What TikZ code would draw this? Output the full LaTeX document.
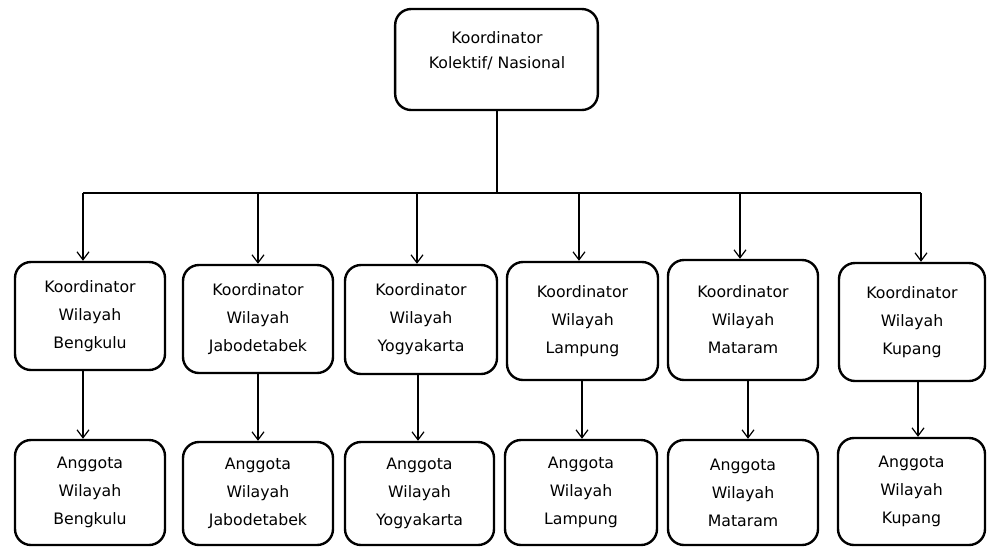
\documentclass[tikz,border=0pt]{standalone}
\usepackage{fontspec}
\setmainfont{DejaVu Sans}
\usetikzlibrary{arrows.meta}
\begin{document}
\begin{tikzpicture}[x=0.75pt,y=-0.75pt,
  box/.style={draw=black,line width=1.8pt,rounded corners=12pt,inner sep=0pt,align=center,
    font=\fontsize{11.8pt}{21pt}\selectfont},
  txt/.style={inner sep=0pt,align=center,font=\fontsize{11.8pt}{19pt}\selectfont},
  conn/.style={draw=black,line width=0.9pt},
  arr/.style={conn,-{Straight Barb[length=6pt,width=9pt,line width=0.9pt]}}]
\useasboundingbox (0,0) rectangle (987,547);
% top
\node[box,minimum width=152pt,minimum height=75.75pt] (top) at (496.5,59.5) {};
\node[txt] (toptxt) at (497,51) {Koordinator\\Kolektif/ Nasional};
% row 1
\node[box,minimum width=112.5pt,minimum height=81pt] (a1) at (90,316) {Koordinator\\Wilayah\\Bengkulu};
\node[box,minimum width=112.5pt,minimum height=81pt] (a2) at (258,319) {Koordinator\\Wilayah\\Jabodetabek};
\node[box,minimum width=114pt,minimum height=81.75pt] (a3) at (421,319.5) {Koordinator\\Wilayah\\Yogyakarta};
\node[box,minimum width=113.25pt,minimum height=88.5pt] (a4) at (582.5,321) {Koordinator\\Wilayah\\Lampung};
\node[box,minimum width=112.5pt,minimum height=90pt] (a5) at (743,320) {Koordinator\\Wilayah\\Mataram};
\node[box,minimum width=109.5pt,minimum height=88.5pt] (a6) at (912,322) {Koordinator\\Wilayah\\Kupang};
% row 2
\node[box,minimum width=112.5pt,minimum height=78.75pt] (b1) at (90,492.5) {Anggota\\Wilayah\\Bengkulu};
\node[box,minimum width=112.5pt,minimum height=77.25pt] (b2) at (258,493.5) {Anggota\\Wilayah\\Jabodetabek};
\node[box,minimum width=111.75pt,minimum height=77.25pt] (b3) at (419.5,493.5) {Anggota\\Wilayah\\Yogyakarta};
\node[box,minimum width=114pt,minimum height=78.75pt] (b4) at (581,492.5) {Anggota\\Wilayah\\Lampung};
\node[box,minimum width=112.5pt,minimum height=78.75pt] (b5) at (743,492.5) {Anggota\\Wilayah\\Mataram};
\node[box,minimum width=110.25pt,minimum height=80.25pt] (b6) at (911.5,491.5) {Anggota\\Wilayah\\Kupang};
% bus
\coordinate (busL) at (83,193);
\coordinate (busR) at (921,193);
\coordinate (t1) at (83,193);
\coordinate (t2) at (258,193);
\coordinate (t3) at (417,193);
\coordinate (t4) at (579,193);
\coordinate (t5) at (740,193);
\coordinate (t6) at (921,193);
\coordinate (d1) at (83,0);
\coordinate (d2) at (258,0);
\coordinate (d3) at (418,0);
\coordinate (d4) at (582,0);
\coordinate (d5) at (748,0);
\coordinate (d6) at (918,0);
\draw[conn] (top.south -| 497,0) -- (497,193);
\draw[conn] (busL) -- (busR);
\foreach \i in {1,...,6}{
  \draw[arr] (t\i) -- (t\i |- a\i.north);
  \draw[arr] (d\i |- a\i.south) -- (d\i |- b\i.north);
}
\end{tikzpicture}
\end{document}
